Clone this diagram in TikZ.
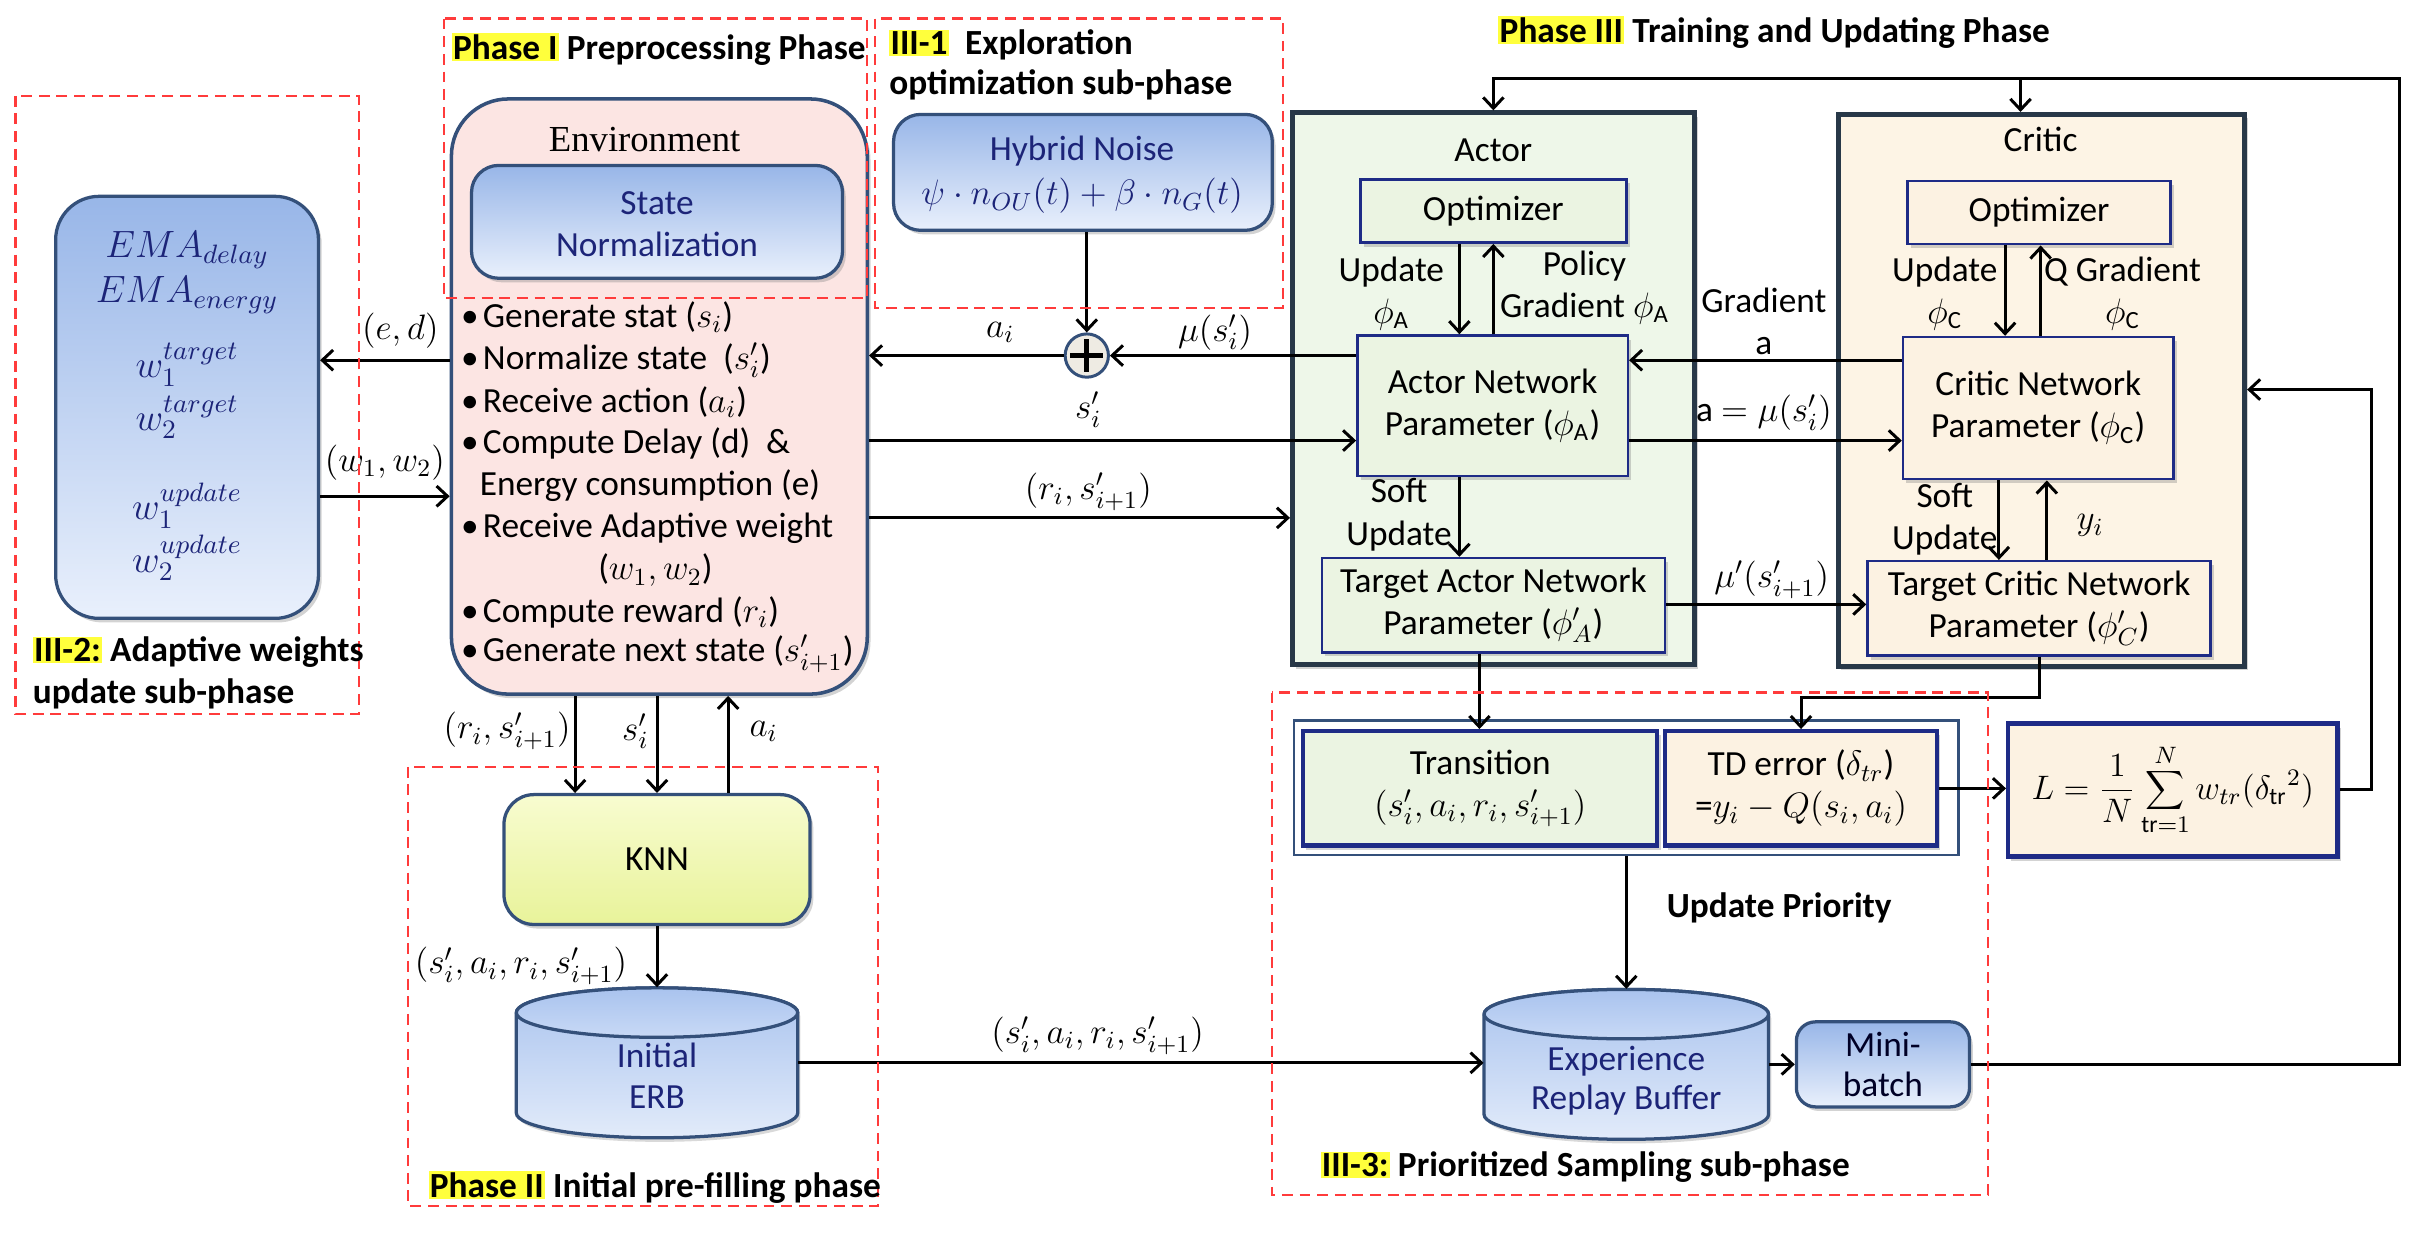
\RequirePackage{fix-cm}
\documentclass[tikz,border=0pt]{standalone}
\usepackage{fontspec}
\setmainfont{Carlito}
\newfontfamily\envfont{Liberation Serif}
\usetikzlibrary{arrows.meta,fit,shadows}
\definecolor{dashred}{HTML}{FF3B3B}
\definecolor{bluetop}{HTML}{98B6E8}
\definecolor{bluebot}{HTML}{E9F0FC}
\definecolor{blueline}{HTML}{34507A}
\definecolor{navytext}{HTML}{1C2478}
\definecolor{pinkfill}{HTML}{FCE5E3}
\definecolor{actorfill}{HTML}{EEF7E9}
\definecolor{actorin}{HTML}{EBF4E2}
\definecolor{criticfill}{HTML}{FDF4E5}
\definecolor{criticin}{HTML}{FCF2E2}
\definecolor{boxline}{HTML}{283848}
\definecolor{navyline}{HTML}{1E2B86}
\definecolor{knntop}{HTML}{F8FCD0}
\definecolor{knnbot}{HTML}{E8F39A}
\definecolor{hlyellow}{HTML}{FFFF3C}
\definecolor{plusfill}{HTML}{EEEBE3}
\definecolor{cyltop}{HTML}{A9C3EE}
\definecolor{cylbot}{HTML}{E2EBFA}
\definecolor{cylcap}{HTML}{C8D9F6}
\newcommand{\hlt}[1]{{\setlength{\fboxsep}{0.5pt}\colorbox{hlyellow}{#1}}}
\newcommand{\bodyfont}{\fontsize{13}{15.5}\selectfont}
\newcommand{\labfont}{\bfseries\fontsize{13}{15.5}\selectfont}
\newcommand{\drawcyl}[5]{%
  \path[draw=blueline, line width=1.2pt, top color=cyltop, bottom color=cylbot,
        drop shadow={shadow xshift=1pt, shadow yshift=-1.5pt, opacity=0.3}]
    ({#1-#4},{#2+#5}) -- ({#1-#4},{#3-#5})
    arc[start angle=180, end angle=360, x radius={#4*0.02cm}, y radius={#5*0.02cm}]
    -- ({#1+#4},{#2+#5})
    arc[start angle=0, end angle=180, x radius={#4*0.02cm}, y radius={#5*0.02cm}] -- cycle;
  \path[draw=blueline, line width=1.2pt, top color=cyltop, bottom color=cylcap]
    ({#1-#4},{#2+#5}) arc[start angle=180, end angle=-180, x radius={#4*0.02cm}, y radius={#5*0.02cm}];
}
\begin{document}
\begin{tikzpicture}[x=0.02cm, y=-0.02cm, font=\bodyfont,
  arr/.style={line width=1.1pt, -{Straight Barb[length=4pt,width=7.5pt]}},
  dashbox/.style={draw=dashred, line width=0.8pt, dash pattern=on 4pt off 2.5pt},
  shad/.style={drop shadow={shadow xshift=1.2pt, shadow yshift=-1.5pt, opacity=0.35}},
  bluebox/.style={draw=blueline, line width=1.2pt, top color=bluetop, bottom color=bluebot, rounded corners=10pt, inner sep=0pt, shad},
  bigbox/.style={draw=boxline, line width=1.8pt, inner sep=0pt, shad},
  inbox/.style={draw=navyline, line width=0.9pt, inner sep=0pt, shad},
  txt/.style={inner sep=0pt, align=center},
  btxt/.style={inner sep=0pt, align=center, text=navytext},
  lab/.style={inner sep=1pt, align=center},
  phaselab/.style={font=\labfont, inner sep=0.5pt, anchor=west},
  emat/.style={text=navytext, font=\fontsize{14}{16}\selectfont, inner sep=0pt},
  bul/.style={anchor=west, inner sep=0pt},
]
\useasboundingbox (0,0) rectangle (1568,800);

% ---------- III-2 : EMA ----------
\node[bluebox, rounded corners=16pt, fit={(36,127) (206,400)}] (ema) {};
\node[emat] (ema1) at (121,162) {$EMA_{delay}$};
\node[emat] (ema2) at (121,191) {$EMA_{energy}$};
\node[emat] (ema3) at (121,236) {$w_1^{target}$};
\node[emat] (ema4) at (121,270) {$w_2^{target}$};
\node[emat] (ema5) at (121,327) {$w_1^{update}$};
\node[emat] (ema6) at (121,361) {$w_2^{update}$};

% ---------- Environment ----------
\node[fit={(292,64) (561,449)}, draw=blueline, line width=1.3pt, fill=pinkfill, rounded corners=21pt, inner sep=0pt, shad] (env) {};
\node[font=\envfont\fontsize{13.5}{16}\selectfont, inner sep=0pt] (envt) at (417,90) {Environment};
\node[bluebox, fit={(305,107) (545,180)}] (sn) {};
\node[btxt, font=\fontsize{13}{15.6}\selectfont] (snt) at (425,145) {State\\Normalization};
\node[bul] (b1) at (298,205) {\makebox[8pt][l]{•}Generate stat ($s_i$)};
\node[bul] (b2) at (298,233) {\makebox[8pt][l]{•}Normalize state\ \ ($s'_i$)};
\node[bul] (b3) at (298,260) {\makebox[8pt][l]{•}Receive action ($a_i$)};
\node[bul] (b4) at (298,287) {\makebox[8pt][l]{•}Compute Delay (d)\ \ \&};
\node[bul] (b5) at (310,314) {Energy consumption (e)};
\node[bul] (b6) at (298,342) {\makebox[8pt][l]{•}Receive Adaptive weight};
\node[inner sep=0pt] (b7) at (424,369) {($w_1,w_2$)};
\node[bul] (b8) at (298,396) {\makebox[8pt][l]{•}Compute reward ($r_i$)};
\node[bul] (b9) at (298,423) {\makebox[8pt][l]{•}Generate next state ($s'_{i+1}$)};

\draw[arr] (env.west |- 0,233) -- (ema.east |- 0,233);
\draw[arr] (ema.east |- 0,321) -- (env.west |- 0,321);
\node[lab] (led) at (259,214) {$(e,d)$};
\node[lab] (lw) at (249,299) {$(w_1,w_2)$};

% ---------- III-1 : Hybrid noise ----------
\node[bluebox, fit={(578,74) (823,149)}] (hn) {};
\node[btxt, font=\fontsize{13}{16.5}\selectfont] (hnt) at (700,113) {Hybrid Noise\\$\psi\cdot n_{OU}(t)+\beta\cdot n_G(t)$};
\node[circle, draw=blueline, line width=1.1pt, fill=plusfill, minimum size=0.56cm, inner sep=0pt] (plus) at (703,230) {};
\draw[line width=1.8pt] ([xshift=2.5pt]plus.west) -- ([xshift=-2.5pt]plus.east);
\draw[line width=1.8pt] ([yshift=-2.5pt]plus.north) -- ([yshift=2.5pt]plus.south);
\draw[arr] (hn.south -| plus.north) -- (plus.north);

% ---------- Actor ----------
\node[bigbox, fill=actorfill, fit={(836,73) (1096,430)}] (actor) {};
\node[lab] (actorlab) at (966,97) {Actor};
\node[inbox, fill=actorin, fit={(880,116) (1052,157)}] (ao) {};
\node[txt] (aot) at (ao.center) {Optimizer};
\node[inbox, fill=actorin, fit={(878,217) (1053,308)}] (an) {};
\node[txt] (ant) at (an.center) {Actor Network\\Parameter ($\phi_{\mathrm{A}}$)};
\node[inbox, fill=actorin, fit={(855,361) (1077,422)}] (ta) {};
\node[txt] (tat) at (ta.center) {Target Actor Network\\Parameter ($\phi'_{A}$)};
\draw[arr] (ao.south -| 944,0) -- (an.north -| 944,0);
\draw[arr] (an.north -| 966,0) -- (ao.south -| 966,0);
\draw[arr] (an.south -| 944,0) -- (ta.north -| 944,0);
\node[lab] (aupd) at (900,190) {Update\\$\phi_{\mathrm{A}}$};
\node[lab] (apg) at (1025,186) {Policy\\Gradient $\phi_{\mathrm{A}}$};
\node[lab, inner sep=0pt] (asoft) at (905,333) {Soft\\Update};

% ---------- Critic ----------
\node[bigbox, fill=criticfill, fit={(1189,74) (1452,431)}] (critic) {};
\node[lab] (criticlab) at (1320,90) {Critic};
\node[inbox, fill=criticin, fit={(1234,117) (1404,158)}] (co) {};
\node[txt] (cot) at (co.center) {Optimizer};
\node[inbox, fill=criticin, fit={(1231,218) (1406,310)}] (cn) {};
\node[txt] (cnt) at (cn.center) {Critic Network\\Parameter ($\phi_{\mathrm{C}}$)};
\node[inbox, fill=criticin, fit={(1208,363) (1430,424)}] (tc) {};
\node[txt] (tct) at (tc.center) {Target Critic Network\\Parameter ($\phi'_{C}$)};
\draw[arr] (co.south -| 1297,0) -- (cn.north -| 1297,0);
\draw[arr] (cn.north -| 1320,0) -- (co.south -| 1320,0);
\draw[arr] (cn.south -| 1293,0) -- (tc.north -| 1293,0);
\draw[arr] (tc.north -| 1324,0) -- (cn.south -| 1324,0);
\node[lab] (cupd) at (1258,190) {Update\\$\phi_{\mathrm{C}}$};
\node[lab] (cqg) at (1373,190) {Q Gradient\\$\phi_{\mathrm{C}}$};
\node[lab, inner sep=0pt] (csoft) at (1258,336) {Soft\\Update};
\node[lab] (cyi) at (1352,340) {$y_i$};

% ---------- env <-> actor ----------
\draw[arr] (plus.west) -- (plus.west -| env.east);
\draw[arr] (an.west |- plus.east) -- (plus.east);
\node[lab] (lai) at (647,215) {$a_i$};
\node[lab] (lmu) at (786,215) {$\mu(s'_i)$};
\draw[arr] (env.east |- 0,285) -- (an.west |- 0,285);
\node[lab] (lsi) at (704,265) {$s'_i$};
\draw[arr] (env.east |- 0,335) -- (actor.west |- 0,335);
\node[lab] (lrs2) at (704,318) {$(r_i,s'_{i+1})$};

% ---------- actor <-> critic ----------
\draw[arr] (cn.west |- 0,233) -- (an.east |- 0,233);
\node[lab] (lgrad) at (1141,208) {Gradient\\a};
\draw[arr] (an.east |- 0,285) -- (cn.west |- 0,285);
\node[lab] (lamu) at (1141,267) {a $=\mu(s'_i)$};
\draw[arr] (ta.east |- 0,391) -- (tc.west |- 0,391);
\node[lab] (lmup) at (1146,375) {$\mu'(s'_{i+1})$};

% ---------- III-3 ----------
\node[fit={(837,466) (1267,553)}, draw=blueline, line width=1pt, inner sep=0pt] (cont) {};
\node[inbox, fill=actorin, line width=1.6pt, fit={(843,473) (1072,547)}] (tr) {};
\node[txt] (trt) at (tr.center) {Transition\\$(s'_i,a_i,r_i,s'_{i+1})$};
\node[inbox, fill=criticin, line width=1.6pt, fit={(1077,473) (1253,547)}] (td) {};
\node[txt] (tdt) at (td.center) {TD error ($\delta_{tr}$)\\=$y_i-Q(s_i,a_i)$};
\node[inbox, fill=criticin, line width=1.6pt, fit={(1299,468) (1512,554)}] (lbox) {};
\node[txt, font=\fontsize{12.5}{15}\selectfont] (lboxt) at (lbox.center) {$\displaystyle L=\frac{1}{N}\sum_{\mathrm{tr}=1}^{N} w_{tr}(\delta_{\mathrm{tr}}{}^{2})$};
\draw[arr] (td.east) -- (lbox.west |- td.east);
\draw[arr] (ta.south -| 957,0) -- (tr.north -| 957,0);
\draw[arr] (tc.south) |- (td.north |- 0,451) -- (td.north);

\drawcyl{1052}{640}{737}{92}{16}
\node[fit={(960,640) (1144,737)}, inner sep=0pt] (erb) {};
\node[btxt, font=\fontsize{13}{14.5}\selectfont] (erbt) at (1052,699) {Experience\\Replay Buffer};
\node[bluebox, rounded corners=7pt, fit={(1162,661) (1274,716)}] (mb) {};
\node[txt, text=black!85!blue, font=\fontsize{13}{15}\selectfont] (mbt) at (mb.center) {Mini-\\batch};
\draw[arr] (erb.east |- mb.west) -- (mb.west);
\draw[arr] (cont.south -| erb.north) -- (erb.north);
\node[phaselab] (uprio) at (1077,587) {Update Priority};

% ---------- feedback loops ----------
\coordinate (tr1) at (1552,51);
\draw[arr] (mb.east) -| (tr1) -| (actor.north);
\draw[arr] (tr1 -| 1307,0) -- (critic.north -| 1307,0);
\coordinate (lr) at (1534,252);
\draw[arr] (lbox.east) -| (lr) -- (critic.east |- lr);

% ---------- Phase II ----------
\node[fit={(326,514) (524,598)}, draw=blueline, line width=1.2pt, top color=knntop, bottom color=knnbot, rounded corners=11pt, inner sep=0pt, shad] (knn) {};
\node[txt] (knnt) at (knn.center) {KNN};
\drawcyl{425}{639}{736}{91}{16}
\node[fit={(334,639) (516,736)}, inner sep=0pt] (ierb) {};
\node[btxt, font=\fontsize{13}{15}\selectfont] (ierbt) at (425,696) {Initial\\ERB};
\draw[arr] (env.south -| 372,0) -- (knn.north -| 372,0);
\draw[arr] (env.south -| 425,0) -- (knn.north -| 425,0);
\draw[arr] (knn.north -| 471,0) -- (env.south -| 471,0);
\node[lab] (lrs) at (328,473) {$(r_i,s'_{i+1})$};
\node[lab] (ls) at (411,473) {$s'_i$};
\node[lab] (la) at (494,473) {$a_i$};
\draw[arr] (knn.south) -- (ierb.north);
\node[lab] (lt1) at (337,625) {$(s'_i,a_i,r_i,s'_{i+1})$};
\draw[arr] (ierb.east) -- (erb.west |- ierb.east);
\node[lab] (lt2) at (710,670) {$(s'_i,a_i,r_i,s'_{i+1})$};

% ---------- dashed frames and phase labels ----------
\draw[dashbox] (10,62) rectangle (232,462);
\draw[dashbox] (287,12) rectangle (561,193);
\draw[dashbox] (566,12) rectangle (830,199);
\draw[dashbox] (264,496) rectangle (568,780);
\draw[dashbox] (823,448) rectangle (1286,773);
\node[phaselab] (p1) at (291,32) {\hlt{Phase I} Preprocessing Phase};
\node[phaselab] (p31a) at (574,29) {\hlt{III-1}\hspace{6pt}Exploration};
\node[phaselab] (p31b) at (574,55) {optimization sub-phase};
\node[phaselab] (p3) at (968,21) {\hlt{Phase III} Training and Updating Phase};
\node[phaselab] (p2) at (276,768) {\hlt{Phase II} Initial pre-filling phase};
\node[phaselab] (p33) at (853,755) {\hlt{III-3:} Prioritized Sampling sub-phase};
\node[phaselab] (l32a) at (20,422) {\hlt{III-2:} Adaptive weights};
\node[phaselab] (l32b) at (20,449) {update sub-phase};
\end{tikzpicture}
\end{document}
